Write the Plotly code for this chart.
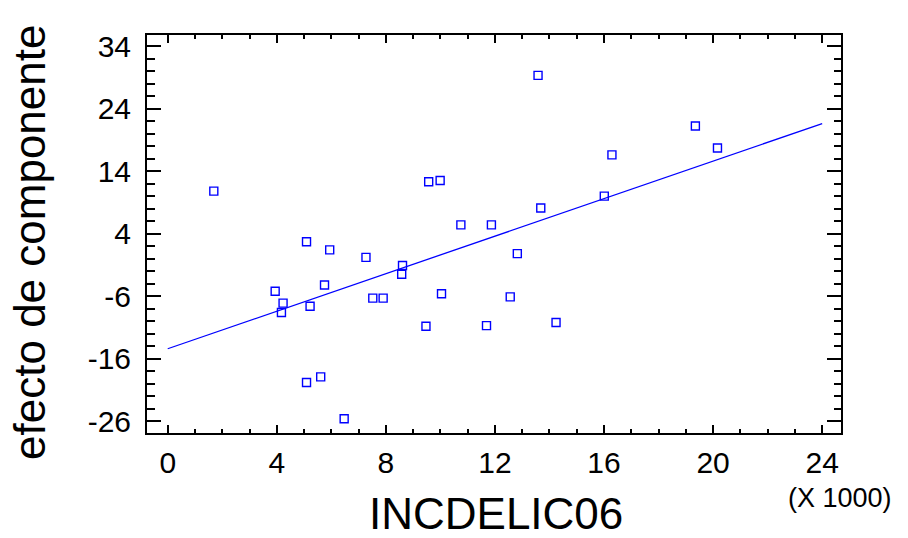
import plotly.graph_objects as go

# Data (x in thousands)
incdelic06 = [1.69, 3.94, 4.17, 4.23, 5.09, 5.09, 5.22, 5.61, 5.75, 5.94, 6.47,
              7.27, 7.52, 7.90, 8.58, 8.61, 9.47, 9.57, 9.99, 10.04, 10.75,
              11.69, 11.87, 12.56, 12.82, 13.58, 13.68, 14.24, 16.01, 16.29,
              19.35, 20.16]
efecto = [10.8, -5.2, -8.6, -7.1, 2.7, -19.8, -7.6, -18.9, -4.2, 1.4, -25.6,
          0.2, -6.3, -6.3, -2.5, -1.1, -10.8, 12.3, 12.5, -5.6, 5.4,
          -10.7, 5.4, -6.1, 0.8, 29.3, 8.1, -10.2, 10.0, 16.6,
          21.2, 17.7]
fit_x = [0, 24]
fit_y = [-14.4, 21.6]

x_ticks = [0, 4, 8, 12, 16, 20, 24]
y_ticks = [-26, -16, -6, 4, 14, 24, 34]

FONT = "Liberation Sans, Arial, sans-serif"
BLUE = "rgb(0,0,255)"

fig = go.Figure()
fig.add_trace(go.Scatter(x=fit_x, y=fit_y, mode="lines",
                         line=dict(color=BLUE, width=1.3), hoverinfo="skip"))
fig.add_trace(go.Scatter(x=incdelic06, y=efecto, mode="markers",
                         marker=dict(symbol="square-open", size=8, color=BLUE,
                                     line=dict(width=1.4, color=BLUE))))

fig.update_layout(
    width=908, height=538,
    margin=dict(l=147, r=67, t=35, b=105),
    paper_bgcolor="white", plot_bgcolor="white",
    showlegend=False,
    font=dict(family=FONT, color="black"),
)
fig.update_xaxes(
    range=[-0.76, 24.69], tickvals=x_ticks, ticktext=[str(v) for v in x_ticks],
    showgrid=False, zeroline=False,
    showline=True, linecolor="black", linewidth=2, mirror="ticks",
    ticks="inside", ticklen=8, tickwidth=2, tickcolor="black",
    minor=dict(dtick=1, tick0=0, ticks="inside", ticklen=4, tickwidth=2, tickcolor="black"),
    tickfont=dict(size=30, family=FONT, color="black"),
    ticklabelstandoff=2,
)
fig.update_yaxes(
    range=[-27.87, 35.76], tickvals=y_ticks, ticktext=[str(v) for v in y_ticks],
    showgrid=False, zeroline=False,
    showline=True, linecolor="black", linewidth=2, mirror="ticks",
    ticks="inside", ticklen=14, tickwidth=2, tickcolor="black",
    minor=dict(dtick=2, tick0=-26, ticks="inside", ticklen=7.5, tickwidth=2, tickcolor="black"),
    tickfont=dict(size=30, family=FONT, color="black"),
    ticklabelstandoff=8,
)

fig.add_annotation(text="INCDELIC06", xref="paper", yref="paper",
                   x=0.503, y=-0.2035, xanchor="center", yanchor="middle",
                   showarrow=False, font=dict(size=44, family=FONT, color="black"))
fig.add_annotation(text="efecto de componente", xref="paper", yref="paper",
                   x=-0.1686, y=0.48, xanchor="center", yanchor="middle", textangle=-90,
                   showarrow=False, font=dict(size=44, family=FONT, color="black"))
fig.add_annotation(text="(X 1000)", xref="paper", yref="paper",
                   x=0.9986, y=-0.163, xanchor="center", yanchor="middle",
                   showarrow=False, font=dict(size=27, family=FONT, color="black"))

fig.write_html("out.html")
